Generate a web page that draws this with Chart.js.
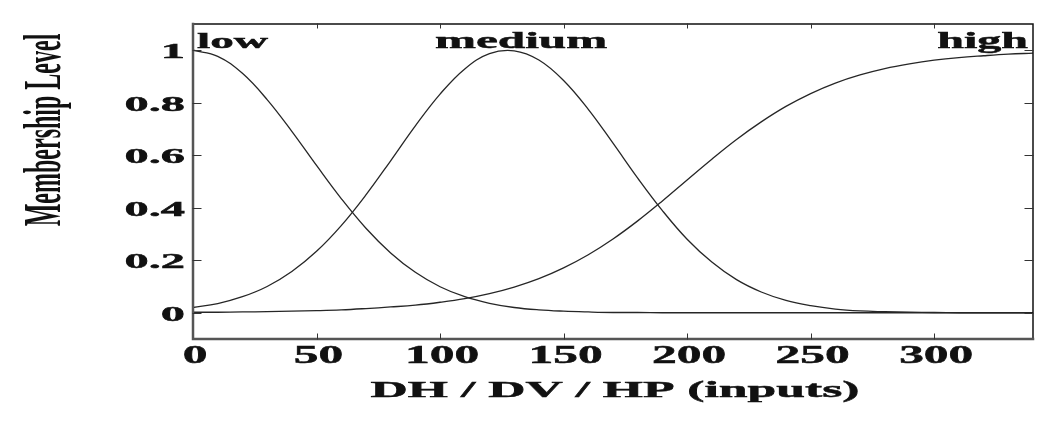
<!DOCTYPE html>
<html>
<head>
<meta charset="utf-8">
<script src="https://cdn.jsdelivr.net/npm/chart.js@4.4.0/dist/chart.umd.min.js"></script>
<style>
  html, body { margin: 0; padding: 0; background: #fff; }
  canvas { display: block; }
</style>
</head>
<body>
<canvas id="mf" width="1060" height="432"></canvas>
<script>
// input universe (DH / DV / HP), sampled every 10 units
const X_VALUES = [0, 10, 20, 30, 40, 50, 60, 70, 80, 90, 100, 110, 120, 130, 140, 150, 160, 170,
  180, 190, 200, 210, 220, 230, 240, 250, 260, 270, 280, 290, 300, 310, 320, 330, 340];

// membership levels
const LOW = [1, 0.977, 0.912, 0.812, 0.691, 0.561, 0.435, 0.322, 0.228, 0.154, 0.099, 0.061, 0.036,
  0.020, 0.011, 0.006, 0.003, 0.001, 0.001, 0, 0, 0, 0, 0, 0, 0, 0, 0, 0, 0, 0, 0, 0, 0, 0];
const MEDIUM = [0.020, 0.035, 0.061, 0.100, 0.157, 0.234, 0.332, 0.449, 0.579, 0.712, 0.833, 0.929,
  0.987, 0.998, 0.963, 0.885, 0.775, 0.646, 0.513, 0.389, 0.280, 0.193, 0.126, 0.079, 0.047, 0.027,
  0.014, 0.007, 0.004, 0.002, 0.001, 0, 0, 0, 0];
const HIGH = [0.002, 0.002, 0.003, 0.004, 0.006, 0.008, 0.011, 0.016, 0.022, 0.029, 0.040, 0.054,
  0.073, 0.098, 0.130, 0.171, 0.221, 0.281, 0.350, 0.426, 0.506, 0.585, 0.660, 0.727, 0.786, 0.835,
  0.875, 0.906, 0.930, 0.948, 0.962, 0.972, 0.979, 0.985, 0.989];

const X_TICKS = [0, 50, 100, 150, 200, 250, 300];
const X_TICK_LABELS = ['0', '50', '100', '150', '200', '250', '300'];
const Y_TICKS = [0, 0.2, 0.4, 0.6, 0.8, 1];
const Y_TICK_LABELS = ['0', '0.2', '0.4', '0.6', '0.8', '1'];

const MF_NAMES = ['low', 'medium', 'high'];
const X_TITLE = 'DH / DV / HP (inputs)';
const Y_TITLE = 'Membership Level';

const SERIF = '"Liberation Serif", "Times New Roman", serif';
const LINE_COLOR = '#262626';

const toPoints = (ys) => ys.map((y, i) => ({ x: X_VALUES[i], y: y }));

// the source image is stretched sideways, so text gets a horizontal scale
function drawText(ctx, text, x, y, size, sx, align) {
  ctx.save();
  ctx.translate(x, y);
  ctx.scale(sx, 1);
  ctx.font = `bold ${size}px ${SERIF}`;
  ctx.textAlign = align;
  ctx.textBaseline = 'alphabetic';
  ctx.fillStyle = '#111';
  ctx.strokeStyle = '#111';
  ctx.lineWidth = 0.5;
  ctx.fillText(text, 0, 0);
  ctx.strokeText(text, 0, 0);
  ctx.restore();
}

const framePlugin = {
  id: 'matlabFrame',
  afterDatasetsDraw(chart) {
    const { ctx, chartArea: a, scales } = chart;
    const xs = scales.x;
    const ys = scales.y;

    ctx.save();
    // box
    ctx.lineCap = 'square';
    ctx.strokeStyle = '#111';
    ctx.lineWidth = 1.5;
    ctx.beginPath();
    ctx.moveTo(a.left, a.top);
    ctx.lineTo(a.right, a.top);
    ctx.lineTo(a.right, a.bottom);
    ctx.stroke();
    ctx.strokeStyle = '#555';
    ctx.lineWidth = 2.5;
    ctx.beginPath();
    ctx.moveTo(a.left, a.top);
    ctx.lineTo(a.left, a.bottom);
    ctx.lineTo(a.right, a.bottom);
    ctx.stroke();

    // inward tick marks
    ctx.strokeStyle = '#333';
    ctx.lineWidth = 1;
    X_TICKS.forEach((v) => {
      const px = Math.round(xs.getPixelForValue(v)) + 0.5;
      if (v === 0) return;
      ctx.beginPath();
      ctx.moveTo(px, a.bottom);
      ctx.lineTo(px, a.bottom - 5);
      ctx.moveTo(px, a.top);
      ctx.lineTo(px, a.top + 4);
      ctx.stroke();
    });
    Y_TICKS.forEach((v) => {
      const py = Math.round(ys.getPixelForValue(v)) + 0.5;
      ctx.beginPath();
      ctx.moveTo(a.left, py);
      ctx.lineTo(a.left + 8, py);
      ctx.moveTo(a.right, py);
      ctx.lineTo(a.right - 8, py);
      ctx.stroke();
    });
    ctx.restore();

    // tick labels
    X_TICKS.forEach((v, i) => {
      drawText(ctx, X_TICK_LABELS[i], xs.getPixelForValue(v) + 2, a.bottom + 24, 26, 1.9, 'center');
    });
    Y_TICKS.forEach((v, i) => {
      drawText(ctx, Y_TICK_LABELS[i], a.left - 8, ys.getPixelForValue(v) + 8, 22, 2.2, 'right');
    });

    // membership function names
    drawText(ctx, MF_NAMES[0], xs.getPixelForValue(0) + 4, a.top + 24, 22, 2.15, 'left');
    drawText(ctx, MF_NAMES[1], xs.getPixelForValue(132.8), a.top + 24, 24, 2.05, 'center');
    drawText(ctx, MF_NAMES[2], xs.getPixelForValue(340) - 5, a.top + 24, 24, 2.0, 'right');

    // axis titles
    drawText(ctx, X_TITLE, (a.left + a.right) / 2 + 2, a.bottom + 58, 24, 2.15, 'center');

    ctx.save();
    ctx.translate(60, 130);
    ctx.rotate(-Math.PI / 2);
    ctx.scale(1, 2.2);
    ctx.font = `bold 24px ${SERIF}`;
    ctx.textAlign = 'center';
    ctx.textBaseline = 'alphabetic';
    ctx.fillStyle = '#111';
    ctx.fillText(Y_TITLE, 0, 0);
    ctx.restore();
  },
};

const lineStyle = {
  borderColor: LINE_COLOR,
  borderWidth: 1.3,
  pointRadius: 0,
  tension: 0.4,
  fill: false,
};

new Chart(document.getElementById('mf'), {
  type: 'line',
  data: {
    datasets: [
      { label: MF_NAMES[0], data: toPoints(LOW), ...lineStyle },
      { label: MF_NAMES[1], data: toPoints(MEDIUM), ...lineStyle },
      { label: MF_NAMES[2], data: toPoints(HIGH), ...lineStyle },
    ],
  },
  plugins: [framePlugin],
  options: {
    responsive: false,
    animation: false,
    devicePixelRatio: 1,
    layout: {
      padding: { left: 193, top: 24, right: 27, bottom: 93 },
    },
    scales: {
      x: { type: 'linear', min: 0, max: 340, display: false },
      y: { type: 'linear', min: -0.1, max: 1.1, display: false },
    },
    plugins: {
      legend: { display: false },
      tooltip: { enabled: false },
    },
  },
});
</script>
</body>
</html>
